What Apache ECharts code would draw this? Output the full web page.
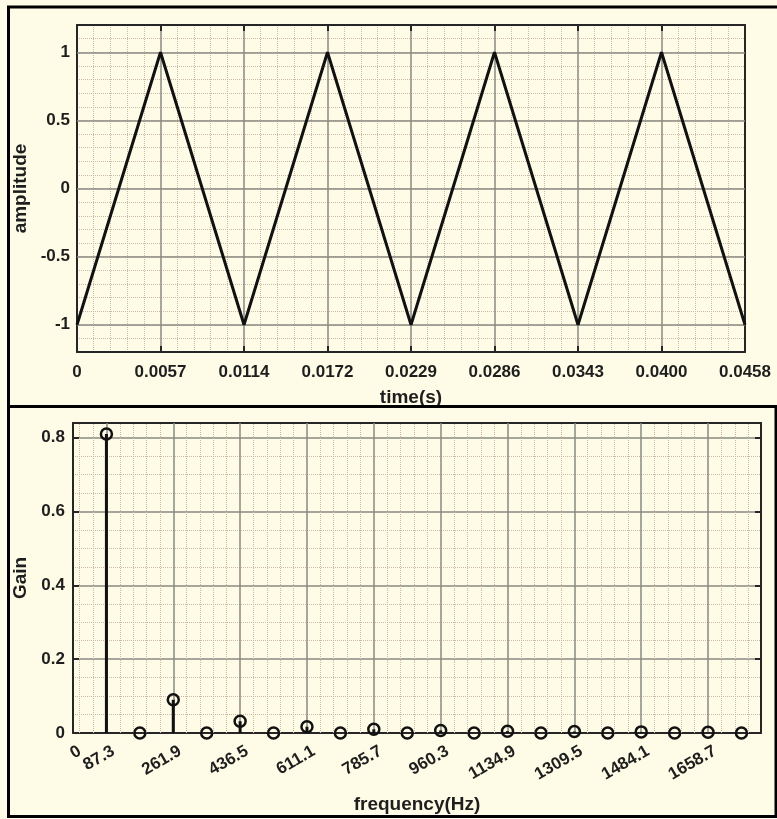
<!DOCTYPE html>
<html>
<head>
<meta charset="utf-8">
<script src="https://cdn.jsdelivr.net/npm/echarts@6/dist/echarts.min.js"></script>
<style>
html,body{margin:0;padding:0;background:#fefce6;}
#chart{width:777px;height:819px;}
</style>
</head>
<body>
<div id="chart"></div>
<script>
// ---- Data ----
const timeVals = [0, 0.005725, 0.01145, 0.017175, 0.0229, 0.028625, 0.03435, 0.040075, 0.0458];
const amplitude = [-1, 1, -1, 1, -1, 1, -1, 1, -1];
const timeTickLabels = ['0', '0.0057', '0.0114', '0.0172', '0.0229', '0.0286', '0.0343', '0.0400', '0.0458'];
const ampTickLabels = ['-1', '-0.5', '0', '0.5', '1'];

const freqs = [87.3, 174.6, 261.9, 349.2, 436.5, 523.8, 611.1, 698.4, 785.7, 873.0,
               960.3, 1047.6, 1134.9, 1222.2, 1309.5, 1396.8, 1484.1, 1571.4, 1658.7, 1746.0];
const gains = [0.81, 0, 0.09, 0, 0.032, 0, 0.017, 0, 0.010, 0,
               0.007, 0, 0.005, 0, 0.004, 0, 0.003, 0, 0.002, 0];
const freqTickLabels = ['0', '87.3', '261.9', '436.5', '611.1', '785.7', '960.3', '1134.9', '1309.5', '1484.1', '1658.7'];
const gainTickLabels = ['0', '0.2', '0.4', '0.6', '0.8'];

// ---- Styling ----
const BG = '#fefce6';
const AXIS = '#262626';
const MAJOR = '#8a8a82';
const MINOR = '#cdb9a8';
const FONT = 'Liberation Sans';
const TXT = '#1e1e1e';

const tStep = timeVals[1];           // major x step of top plot
const fStep = freqs[0];              // base frequency step
const fMajorVals = freqTickLabels.slice(1).map(Number);
const fMinorStep = (fMajorVals[1] - fMajorVals[0]) / 5;
const F_MAX = 1797;
const fMinorVals = [];
for (let v = fMajorVals[0] - fMinorStep; v > 0; v -= fMinorStep) fMinorVals.push(v);
fMajorVals.forEach(m => { for (let j = 1; j < 5; j++) { const v = m + j * fMinorStep; if (v < F_MAX) fMinorVals.push(v); } });

const labelFont = { fontFamily: FONT, fontWeight: 'bold', fontSize: 17, color: TXT };
const nameFont = { fontFamily: FONT, fontWeight: 'bold', fontSize: 19, color: TXT };

const chart = echarts.init(document.getElementById('chart'), null, { renderer: 'canvas' });

const freqLabelBase = { margin: 21, rotate: 30, hideOverlap: false, padding: [0, -8, 0, 0] };

const option = {
  backgroundColor: BG,
  animation: false,
  graphic: [
    { type: 'rect', z: 100, shape: { x: 8.5, y: 7, width: 800, height: 399.5 }, style: { fill: 'none', stroke: '#000', lineWidth: 3 } },
    { type: 'rect', z: 100, shape: { x: 8.5, y: 406.5, width: 767.5, height: 410 }, style: { fill: 'none', stroke: '#000', lineWidth: 3 } }
  ],
  grid: [
    { left: 77, top: 25, width: 668, height: 327, show: false },
    { left: 73, top: 423, width: 688, height: 310, show: false }
  ],
  xAxis: [
    { // 0: top plot, bottom axis
      type: 'value', gridIndex: 0, min: 0, max: timeVals[timeVals.length - 1], interval: tStep,
      name: 'time(s)', nameLocation: 'middle', nameGap: 36, nameTextStyle: nameFont,
      axisLine: { show: true, onZero: false, lineStyle: { color: AXIS, width: 2 } },
      axisTick: { show: true, inside: true, length: 6, lineStyle: { color: AXIS, width: 2 } },
      axisLabel: Object.assign({ margin: 12, showMinLabel: true, showMaxLabel: true,
        formatter: v => timeTickLabels[Math.round(v / tStep)] || '' }, labelFont),
      splitLine: { show: true, lineStyle: { color: MAJOR, width: 1.5 } },
      minorTick: { show: false, splitNumber: 5 },
      minorSplitLine: { show: true, lineStyle: { color: MINOR, width: 1, type: 'dotted' } }
    },
    { // 1: top plot, top axis (box)
      type: 'value', gridIndex: 0, position: 'top', min: 0, max: timeVals[timeVals.length - 1], interval: tStep,
      axisLine: { show: true, onZero: false, lineStyle: { color: AXIS, width: 2 } },
      axisTick: { show: true, inside: true, length: 6, lineStyle: { color: AXIS, width: 2 } },
      axisLabel: { show: false }, splitLine: { show: false }
    },
    { // 2: bottom plot, bottom axis (harmonic labels)
      type: 'value', gridIndex: 1, position: 'bottom', min: 0, max: F_MAX, interval: fStep,
      name: 'frequency(Hz)', nameLocation: 'middle', nameGap: 62, nameTextStyle: nameFont,
      axisLine: { show: true, onZero: false, lineStyle: { color: AXIS, width: 2 } },
      axisTick: { show: false },
      axisLabel: Object.assign({}, freqLabelBase, {
        showMinLabel: false, showMaxLabel: false,
        formatter: v => {
          const idx = Math.round(v / fStep);
          if (Math.abs(v - idx * fStep) > 1e-6) return '';
          if (idx % 2 === 1) return freqTickLabels[(idx + 1) / 2] || '';
          return '';
        }
      }, labelFont),
      splitLine: { show: false }
    },
    { // 3: bottom plot, top axis (box)
      type: 'value', gridIndex: 1, position: 'top', min: 0, max: F_MAX, interval: fStep,
      axisLine: { show: true, onZero: false, lineStyle: { color: AXIS, width: 2 } },
      axisTick: { show: false }, axisLabel: { show: false }, splitLine: { show: false }
    },
    { // 4: bottom plot, label at the origin only
      type: 'value', gridIndex: 1, position: 'bottom', min: 0, max: F_MAX, interval: fStep * 4,
      axisLine: { show: false }, axisTick: { show: false }, splitLine: { show: false },
      axisLabel: Object.assign({}, freqLabelBase, {
        showMinLabel: true, showMaxLabel: false,
        formatter: v => (Math.abs(v) < 1e-9 ? freqTickLabels[0] : '')
      }, labelFont)
    }
  ],
  yAxis: [
    { // top plot, left
      type: 'value', gridIndex: 0, min: -1.2, max: 1.2, interval: 0.1,
      name: 'amplitude', nameLocation: 'middle', nameGap: 47, nameRotate: 90, nameTextStyle: nameFont,
      axisLine: { show: true, onZero: false, lineStyle: { color: AXIS, width: 2 } },
      axisTick: { show: false },
      axisLabel: Object.assign({
        margin: 7,
        formatter: v => {
          const k = Math.round(v * 2);
          if (Math.abs(v * 2 - k) > 1e-6 || k < -2 || k > 2) return '';
          return ampTickLabels[k + 2];
        }
      }, labelFont),
      splitLine: { show: true, lineStyle: { color: MINOR, width: 1, type: 'dotted' } }
    },
    { // top plot, right (box)
      type: 'value', gridIndex: 0, position: 'right', min: -1.2, max: 1.2, interval: 0.1,
      axisLine: { show: true, onZero: false, lineStyle: { color: AXIS, width: 2 } },
      axisTick: { show: false }, axisLabel: { show: false }, splitLine: { show: false }
    },
    { // bottom plot, left
      type: 'value', gridIndex: 1, min: 0, max: 0.84, interval: 0.2,
      name: 'Gain', nameLocation: 'middle', nameGap: 40, nameRotate: 90, nameTextStyle: nameFont,
      axisLine: { show: true, onZero: false, lineStyle: { color: AXIS, width: 2 } },
      axisTick: { show: true, inside: true, length: 6, lineStyle: { color: AXIS, width: 2 } },
      axisLabel: Object.assign({
        margin: 8, showMaxLabel: false,
        formatter: v => {
          const k = Math.round(v / 0.2);
          if (Math.abs(v - k * 0.2) > 1e-6) return '';
          return gainTickLabels[k] || '';
        }
      }, labelFont),
      splitLine: { show: true, lineStyle: { color: MAJOR, width: 1.5 } },
      minorTick: { show: false, splitNumber: 4 },
      minorSplitLine: { show: true, lineStyle: { color: MINOR, width: 1, type: 'dotted' } }
    },
    { // bottom plot, right (box)
      type: 'value', gridIndex: 1, position: 'right', min: 0, max: 0.84, interval: 0.2,
      axisLine: { show: true, onZero: false, lineStyle: { color: AXIS, width: 2 } },
      axisTick: { show: true, inside: true, length: 6, lineStyle: { color: AXIS, width: 2 } },
      axisLabel: { show: false }, splitLine: { show: false }
    }
  ],
  series: [
    { // helper: major horizontal grid lines top plot
      type: 'line', xAxisIndex: 0, yAxisIndex: 0, z: 1, silent: true,
      data: timeVals.map((t, i) => [t, amplitude[i]]),
      showSymbol: false, lineStyle: { opacity: 0 },
      markLine: {
        silent: true, symbol: ['none', 'none'], label: { show: false }, animation: false,
        lineStyle: { type: 'solid', color: MAJOR, width: 1.5 },
        data: ampTickLabels.map(s => ({ yAxis: Number(s) }))
      }
    },
    { // triangle wave
      type: 'line', xAxisIndex: 0, yAxisIndex: 0, z: 10,
      data: timeVals.map((t, i) => [t, amplitude[i]]),
      showSymbol: false, lineStyle: { color: '#111', width: 3 }
    },
    { // helper: vertical grid lines bottom plot
      type: 'line', xAxisIndex: 2, yAxisIndex: 2, z: 1, silent: true,
      data: freqs.map((f, i) => [f, gains[i]]),
      showSymbol: false, lineStyle: { opacity: 0 },
      markLine: {
        silent: true, symbol: ['none', 'none'], label: { show: false }, animation: false,
        data: fMinorVals.map(v => ({ xAxis: v, lineStyle: { type: 'dotted', color: MINOR, width: 1 } }))
          .concat(fMajorVals.map(v => ({ xAxis: v, lineStyle: { type: 'solid', color: MAJOR, width: 1.5 } })))
      }
    },
    { // stems
      type: 'bar', xAxisIndex: 2, yAxisIndex: 2, z: 10, barWidth: 3,
      data: freqs.map((f, i) => [f, gains[i]]),
      itemStyle: { color: '#111' }
    },
    { // stem heads
      type: 'scatter', xAxisIndex: 2, yAxisIndex: 2, z: 11,
      data: freqs.map((f, i) => [f, gains[i]]),
      symbol: 'circle', symbolSize: 11,
      itemStyle: { color: 'rgba(0,0,0,0)', borderColor: '#111', borderWidth: 2.5, opacity: 1 }
    }
  ]
};
chart.setOption(option);
</script>
</body>
</html>
